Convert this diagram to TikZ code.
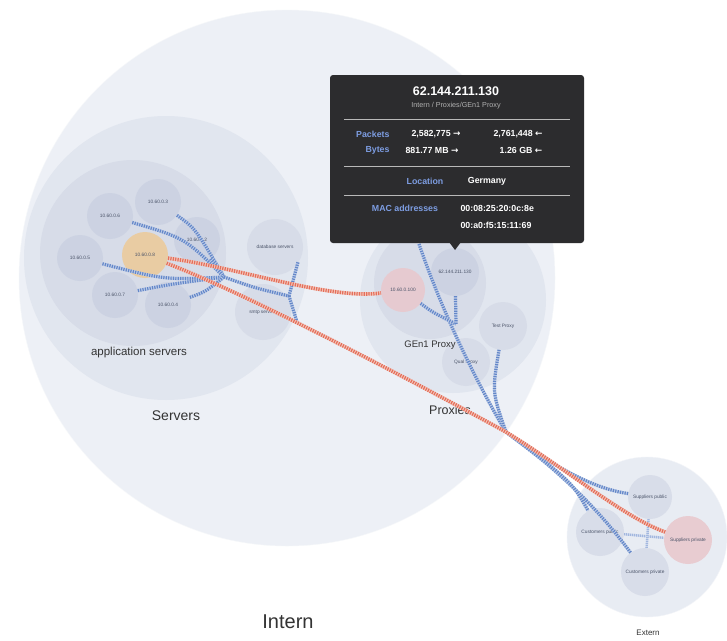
\documentclass[tikz,border=0pt]{standalone}
\usepackage{fontspec}
\setmainfont{Liberation Sans}
\newfontfamily\symfont{DejaVu Sans}
\definecolor{internfill}{HTML}{EDF0F6}
\definecolor{lvltwo}{HTML}{E1E6EF}
\definecolor{lvlthree}{HTML}{D7DCE8}
\definecolor{leaf}{HTML}{CBD2E2}
\definecolor{orangeleaf}{HTML}{EBCB9C}
\definecolor{redleaf}{HTML}{E8C9CE}
\definecolor{tipbg}{HTML}{2C2C2E}
\definecolor{tipblue}{HTML}{7D9DE2}
\definecolor{redflow}{HTML}{E36F5B}
\definecolor{redlight}{HTML}{F4C6BB}
\definecolor{blueflow}{HTML}{6487C8}
\definecolor{bluelight}{HTML}{BDCCE8}
\definecolor{labeltext}{HTML}{4A5368}
\tikzset{
  group/.style={circle, inner sep=0pt, draw=none},
  leafnode/.style={circle, inner sep=0pt, minimum size=46pt, fill=leaf, fill opacity=0.9, text opacity=1,
    font=\fontsize{4.8}{5.5}\selectfont, text=labeltext},
  rflow/.style={line width=3.6pt, draw=redflow, dash pattern=on 1.2pt off 1.2pt,
    preaction={draw=redlight, solid, line width=3.6pt}},
  bflow/.style={line width=3.2pt, draw=blueflow, dash pattern=on 1.2pt off 1.2pt,
    preaction={draw=bluelight, solid, line width=3.2pt}},
  lbflow/.style={line width=2.4pt, draw=blueflow!60, dash pattern=on 1pt off 1pt,
    preaction={draw=bluelight!70, solid, line width=2.4pt}},
  grouplabel/.style={text=black!80},
  tiptext/.style={text=white, font=\fontsize{8.8}{10}\selectfont\bfseries},
  tipkey/.style={text=tipblue, font=\fontsize{8.8}{10}\selectfont\bfseries},
  tipsep/.style={draw=gray!55, line width=0.5pt}
}
\begin{document}
\begin{tikzpicture}[x=1pt, y=-1pt]
\useasboundingbox (0,0) rectangle (727,640);
\fill[white] (0,0) rectangle (727,640);

% ---- group circles
\node[group, fill=internfill, draw=white!50!internfill, minimum size=536pt] (intern) at (287,278) {};
\node[group, fill=lvltwo, minimum size=284pt] (servers) at (166,258) {};
\node[group, fill=lvlthree, minimum size=186pt] (appsrv) at (133,253) {};
\node[group, fill=lvltwo, minimum size=186pt] (proxies) at (453,300) {};
\node[group, fill=lvlthree, minimum size=112pt] (gen) at (430,283) {};
\node[group, fill=internfill!60!lvltwo, draw=white!60!lvltwo, minimum size=160pt] (extern) at (647,537) {};

% ---- leaves: application servers
\node[leafnode] (n6) at (110,216) {10.60.0.6};
\node[leafnode] (n3) at (158,202) {10.60.0.3};
\node[leafnode] (n2) at (197,240) {10.60.0.2};
\node[leafnode] (n5) at (80,258) {10.60.0.5};
\node[leafnode] (n7) at (115,295) {10.60.0.7};
\node[leafnode] (n4) at (168,305) {10.60.0.4};
\node[leafnode, fill=orangeleaf] (n8) at (145,255) {10.60.0.8};
% other servers
\node[leafnode, fill=lvlthree, minimum size=56pt] (db) at (275,247) {database servers};
\node[leafnode, fill=lvlthree, minimum size=56pt] (smtp) at (263,312) {smtp servers};
% proxies
\node[leafnode, fill=redleaf, minimum size=44pt] (p100) at (403,290) {10.60.0.100};
\node[leafnode, minimum size=48pt] (p62) at (455,272) {62.144.211.130};
\node[leafnode, fill=lvlthree, minimum size=48pt] (test) at (503,326) {Test Proxy};
\node[leafnode, fill=lvlthree, minimum size=48pt] (qual) at (466,362) {Qual Proxy};
% extern
\node[leafnode, fill=lvlthree, minimum size=44pt] (spub) at (650,497) {Suppliers public};
\node[leafnode, fill=lvlthree, minimum size=48pt] (cpub) at (600,532) {Customers public};
\node[leafnode, fill=lvlthree, minimum size=48pt] (cpriv) at (645,572) {Customers private};
\node[leafnode, fill=redleaf, minimum size=48pt] (sprv) at (688,540) {Suppliers private};

% ---- group labels
\node[grouplabel, font=\fontsize{11.5}{13}\selectfont] (lapp) at (139,353) {application servers};
\node[grouplabel, font=\fontsize{14}{16}\selectfont] (lsrv) at (176,416) {Servers};
\node[grouplabel, font=\fontsize{9.5}{11}\selectfont] (lgen) at (430,345) {GEn1 Proxy};
\node[grouplabel, font=\fontsize{12.5}{14}\selectfont] (lprox) at (450,410) {Proxies};
\node[grouplabel, font=\fontsize{20}{22}\selectfont] (lint) at (288,622) {Intern};
\node[grouplabel, font=\fontsize{8}{9}\selectfont] (lext) at (648,633) {Extern};

% ---- connector coordinates
\coordinate (hub) at (224,277);
\coordinate (star) at (289,296);
\coordinate (dbin) at (298,262);
\coordinate (smtpin) at (297,322);
\coordinate (ptop) at (419,244);
\coordinate (pj) at (456,324);
\coordinate (junc) at (506,432);

% ---- blue flows, servers
\draw[bflow] (n6) .. controls (185,238) .. (hub);
\draw[bflow] (n3) .. controls (195,228) .. (hub);
\draw[bflow] (n2) -- (hub);
\draw[bflow] (n5) .. controls (165,280) .. (hub);
\draw[bflow] (n7) .. controls (172,284) .. (hub);
\draw[bflow] (n4) .. controls (205,292) .. (hub);
\draw[bflow] (hub) .. controls (255,288) .. (star);
\draw[bflow] (star) -- (dbin);
\draw[bflow] (star) -- (smtpin);

% ---- blue flows, proxies
\draw[bflow] (ptop) .. controls (445,320) and (482,392) .. (junc);
\draw[bflow] (p100) .. controls (432,312) .. (pj);
\draw[bflow] (p62) -- (pj);
\draw[bflow] (test) .. controls (492,392) .. (junc);

% ---- blue flows, extern
\draw[bflow] (junc) .. controls (575,482) and (610,525) .. (cpriv);
\draw[bflow] (junc) .. controls (572,480) and (605,490) .. (spub);
\draw[bflow] (junc) .. controls (572,482) .. (cpub);
\draw[lbflow] (cpub) -- (sprv);
\draw[lbflow] (spub) -- (cpriv);

% ---- red flows
\draw[rflow] (n8) .. controls (240,268) and (330,300) .. (p100);
\draw[rflow] (n8) .. controls (250,295) and (420,385) .. (junc) .. controls (565,468) and (625,518) .. (sprv);

% ---- tooltip
\fill[tipbg, rounded corners=3pt] (330,75) rectangle (584,243);
\fill[tipbg] (449,242) -- (461,242) -- (455,250) -- cycle;
\node[text=white, font=\fontsize{12.5}{14}\selectfont\bfseries] (ttitle) at (456,91) {62.144.211.130};
\node[text=gray!60, font=\fontsize{7.2}{8}\selectfont] (tsub) at (456,106) {Intern / Proxies/GEn1 Proxy};
\draw[tipsep] (344,119) -- (570,119);
\node[tipkey, anchor=east] (kpk) at (393,134) {Packets};
\node[tiptext] (vpk1) at (436,134) {2,582,775 {\symfont →}};
\node[tiptext] (vpk2) at (518,134) {2,761,448 {\symfont ←}};
\node[tipkey, anchor=east] (kby) at (393,150) {Bytes};
\node[tiptext] (vby1) at (432,150) {881.77 MB {\symfont →}};
\node[tiptext] (vby2) at (521,150) {1.26 GB {\symfont ←}};
\draw[tipsep] (344,166) -- (570,166);
\node[tipkey] (kloc) at (425,181) {Location};
\node[tiptext] (vloc) at (487,181) {Germany};
\draw[tipsep] (344,195) -- (570,195);
\node[tipkey] (kmac) at (405,208) {MAC addresses};
\node[tiptext, anchor=west] (vmac1) at (457,208) {00:08:25:20:0c:8e};
\node[tiptext, anchor=west] (vmac2) at (457,225) {00:a0:f5:15:11:69};
\end{tikzpicture}
\end{document}
